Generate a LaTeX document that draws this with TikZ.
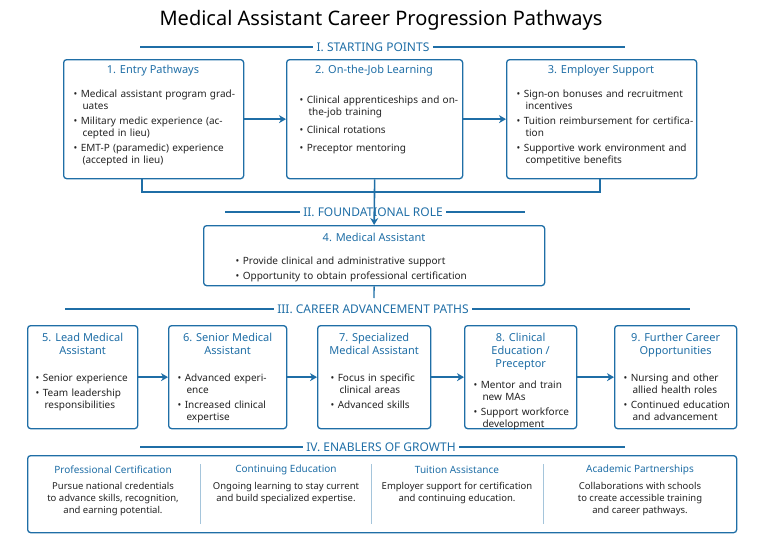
\documentclass[tikz,border=0pt]{standalone}
\usepackage{fontspec}
\setmainfont{Noto Sans}
\usetikzlibrary{positioning}
\usetikzlibrary{arrows.meta}
\definecolor{mablue}{HTML}{1F6EA6}
\definecolor{matext}{HTML}{222222}
\newcommand{\itm}[1]{\par\hangindent=0.9em\hangafter=1\textbullet\hspace{0.35em}#1\par\vspace{3pt}}
\begin{document}
\begin{tikzpicture}
[
x=1pt, y=-1pt,
>=stealth,
box/.style={draw=mablue, line width=1.3pt, rounded corners=3pt, anchor=north west, inner sep=0pt},
body/.style={anchor=north west, text=matext, font=\fontsize{10}{12}\selectfont, align=left},
head/.style={text=mablue, font=\bfseries\fontsize{11}{13}\selectfont, align=center},
sect/.style={text=mablue, font=\bfseries\fontsize{12}{14}\selectfont},
rule/.style={draw=mablue, line width=1.3pt},
link/.style={draw=mablue, line width=1.6pt, ->, >={Stealth[length=7pt,width=8pt]}},
]
\useasboundingbox (0,0) rectangle (763,546);
\node (title) [font=\bfseries\fontsize{20}{24}\selectfont] at (381,20) {Medical Assistant Career Progression Pathways};

% section headings
\node (secI) [sect] at (373,47) {I. STARTING POINTS};
\draw [rule] (140,47) -- (secI.west); \draw [rule] (secI.east) -- (625,47);
\node (secII) [sect] at (373,212) {II. FOUNDATIONAL ROLE};
\draw [rule] (225,212) -- (secII.west); \draw [rule] (secII.east) -- (525,212);
\node (secIII) [sect] at (373,309) {III. CAREER ADVANCEMENT PATHS};
\draw [rule] (65,309) -- (secIII.west); \draw [rule] (secIII.east) -- (690,309);
\node (secIV) [sect] at (381,447) {IV. ENABLERS OF GROWTH};
\draw [rule] (140,447) -- (secIV.west); \draw [rule] (secIV.east) -- (625,447);

% starting points
\node (entry) [box, minimum width=180pt, minimum height=119pt] at (63,59) {};
\node (job) [box, minimum width=176pt, minimum height=119pt] at (286,59) {};
\node (emp) [box, minimum width=190pt, minimum height=119pt] at (506,59) {};
\node [head] at (153,71) {1. Entry Pathways};
\node [body, text width=165pt] at (70,82) {\itm{Medical assistant program graduates}\itm{Military medic experience (accepted in lieu)}\itm{EMT-P (paramedic) experience (accepted in lieu)}};
\node [head] at (374,71) {2. On-the-Job Learning};
\node [body, text width=160pt] at (296,88) {\itm{Clinical apprenticeships and on-the-job training}\vspace{3pt}\itm{Clinical rotations}\vspace{3pt}\itm{Preceptor mentoring}};
\node [head] at (601,71) {3. Employer Support};
\node [body, text width=178pt] at (513,82) {\itm{Sign-on bonuses and recruitment incentives}\itm{Tuition reimbursement for certification}\itm{Supportive work environment and competitive benefits}};
\draw [link] (entry) -- (job);
\draw [link] (job) -- (emp);

% foundational role
\node (ma) [box, minimum width=341pt, minimum height=60pt] at (203,225) {};
\node [head] at (374,237) {4. Medical Assistant};
\node [body, text width=300pt] at (232,249) {\itm{Provide clinical and administrative support}\itm{Opportunity to obtain professional certification}};
\coordinate (c1) at (142,192);
\coordinate (c3) at (600,192);
\draw [rule] (entry.south -| c1) -- (c1) -- (c3) -- (emp.south -| c3);
\draw [link] (job.south) -- (ma.north);
\coordinate (c4) at (374,298);
\draw [rule] (ma.south) -- (c4);

% career paths
\node (lead) [box, minimum width=110pt, minimum height=103pt] at (27,325) {};
\node (senior) [box, minimum width=118pt, minimum height=103pt] at (168,325) {};
\node (spec) [box, minimum width=113pt, minimum height=103pt] at (317,325) {};
\node (edu) [box, minimum width=112pt, minimum height=103pt] at (464,325) {};
\node (further) [box, minimum width=122pt, minimum height=103pt] at (614,325) {};
\node [head, anchor=north] at (lead.north) [yshift=-5pt] {5. Lead Medical\\Assistant};
\node [body, text width=100pt] at (32,366) {\itm{Senior experience}\itm{Team leadership responsibilities}};
\node [head, anchor=north] at (senior.north) [yshift=-5pt] {6. Senior Medical\\Assistant};
\node [body, text width=108pt] at (174,366) {\itm{Advanced experience}\itm{Increased clinical expertise}};
\node [head, anchor=north] at (spec.north) [yshift=-5pt] {7. Specialized\\Medical Assistant};
\node [body, text width=95pt] at (327,366) {\itm{Focus in specific clinical areas}\itm{Advanced skills}};
\node [head, anchor=north] at (edu.north) [yshift=-5pt] {8. Clinical\\Education /\\Preceptor};
\node [body, text width=100pt] at (470,373) {\itm{Mentor and train new MAs}\itm{Support workforce development}};
\node [head, anchor=north] at (further.north) [yshift=-5pt] {9. Further Career\\Opportunities};
\node [body, text width=110pt] at (620,366) {\itm{Nursing and other allied health roles}\itm{Continued education and advancement}};
\foreach \a/\b in {lead/senior, senior/spec, spec/edu, edu/further}
{
\draw [link] (\a) -- (\b);
}

% enablers
\node (enab) [box, minimum width=709pt, minimum height=77pt] at (27,455) {};
\foreach \x in {200,371,543}
{
\draw [draw=mablue!40, line width=0.6pt] (\x,464) -- (\x,524);
}
\foreach \x/\t/\d in {
113/Professional Certification/{Pursue national credentials\\to advance skills, recognition,\\and earning potential.},
286/Continuing Education/{Ongoing learning to stay current\\and build specialized expertise.},
457/Tuition Assistance/{Employer support for certification\\and continuing education.},
640/Academic Partnerships/{Collaborations with schools\\to create accessible training\\and career pathways.}}
{
\node [head, font=\bfseries\fontsize{10}{12}\selectfont] at (\x,470) {\t};
\node [anchor=north, align=center, text=matext, font=\fontsize{9.5}{12}\selectfont] at (\x,479) {\d};
}
\end{tikzpicture}
\end{document}
